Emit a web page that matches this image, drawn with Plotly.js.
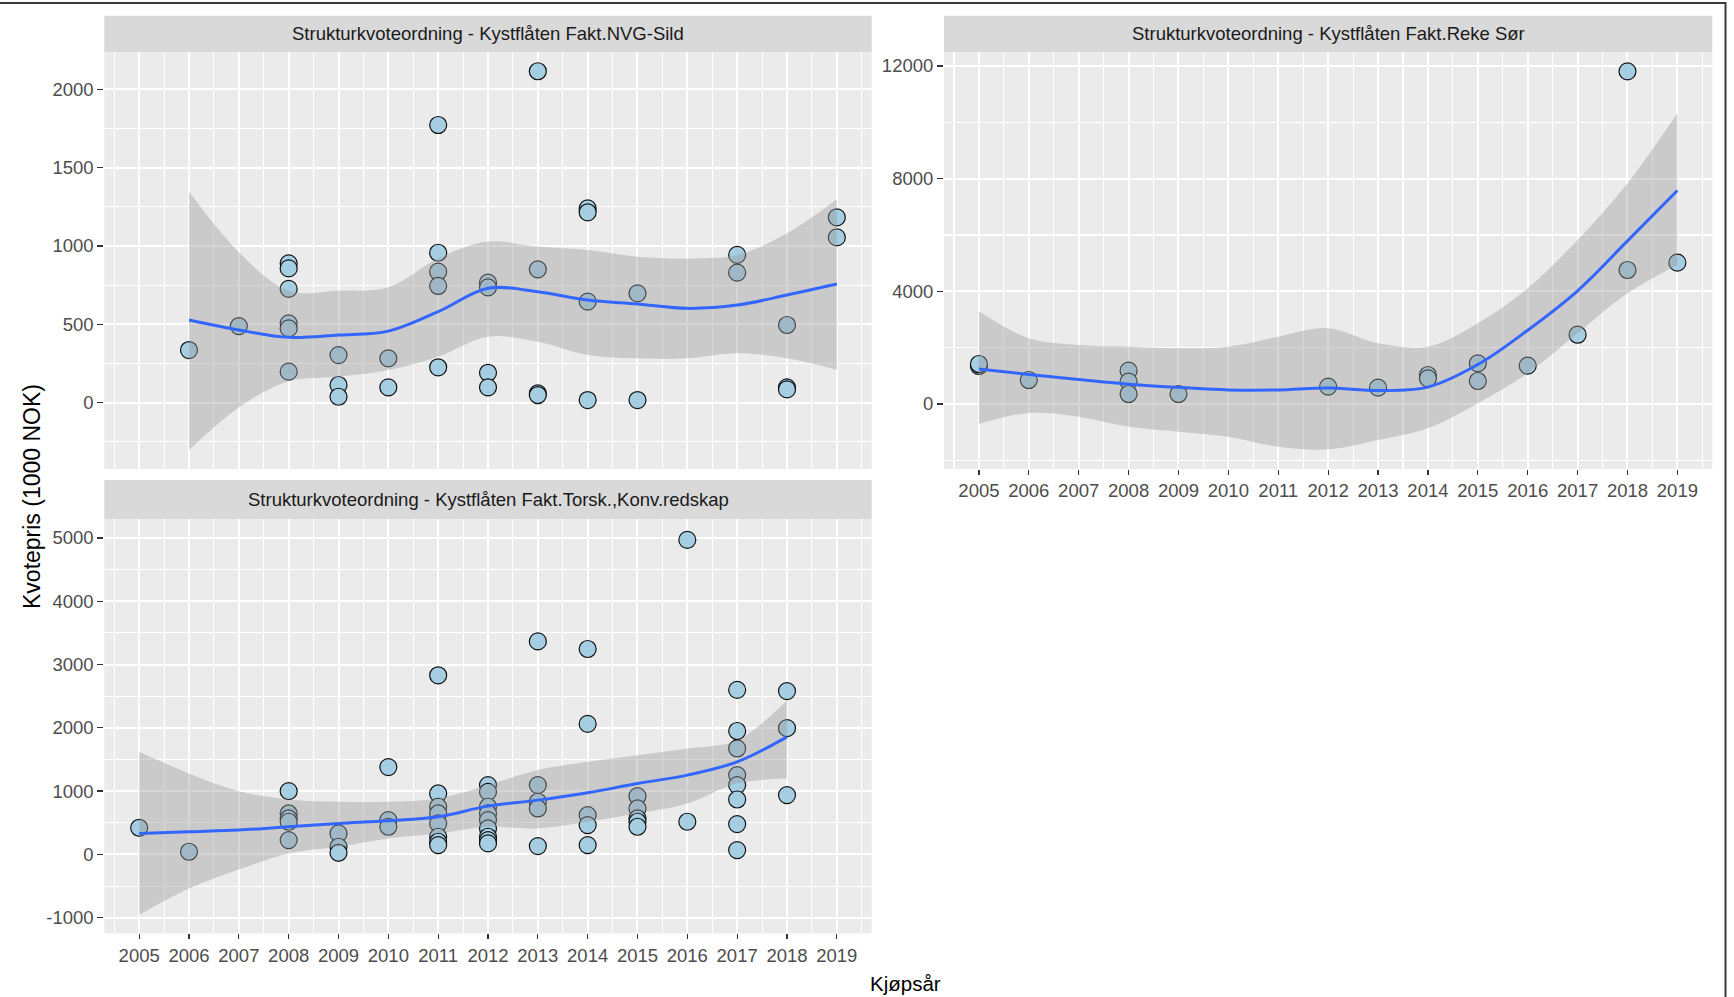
<!DOCTYPE html>
<html>
<head>
<meta charset="utf-8">
<script src="https://cdn.plot.ly/plotly-3.0.1.min.js"></script>
<style>
  html, body { margin: 0; padding: 0; background: #ffffff; }
  #chart { width: 1734px; height: 997px; }
</style>
</head>
<body>
<div id="chart"></div>
<script>
// ---------------- DATA ----------------
const yearTicks = [2005, 2006, 2007, 2008, 2009, 2010, 2011, 2012, 2013, 2014, 2015, 2016, 2017, 2018, 2019];
const yearTickText = ["2005", "2006", "2007", "2008", "2009", "2010", "2011", "2012", "2013", "2014", "2015", "2016", "2017", "2018", "2019"];

// Panel 1: NVG-Sild
const sildTitle = "Strukturkvoteordning - Kystflåten Fakt.NVG-Sild";
const sildYear = [2006, 2007, 2008, 2008, 2008, 2008, 2008, 2008, 2009, 2009, 2009, 2010, 2010,
                  2011, 2011, 2011, 2011, 2011, 2012, 2012, 2012, 2012, 2013, 2013, 2013, 2013,
                  2014, 2014, 2014, 2014, 2015, 2015, 2017, 2017, 2018, 2018, 2018, 2019, 2019];
const sildPris = [336, 489, 889, 857, 726, 506, 474, 198, 304, 113, 38, 283, 98,
                  1772, 957, 836, 745, 226, 766, 736, 191, 98, 2115, 851, 60, 49,
                  1240, 1215, 645, 17, 698, 17, 943, 830, 496, 98, 85, 1183, 1055];
const sildFitYear = [2006, 2007, 2008, 2009, 2010, 2011, 2012, 2013, 2014, 2015, 2016, 2017, 2018, 2019];
const sildFit   = [528, 464, 417, 432, 457, 581, 730, 708, 655, 630, 602, 623, 687, 757];
const sildUpper = [1347, 960, 715, 715, 736, 921, 1028, 996, 974, 932, 921, 943, 1081, 1298];
const sildLower = [-302, -30, 137, 166, 209, 294, 421, 389, 304, 283, 283, 315, 283, 209];
const sildTickVals = [0, 500, 1000, 1500, 2000];
const sildTickText = ["0", "500", "1000", "1500", "2000"];

// Panel 2: Reke Sør
const rekeTitle = "Strukturkvoteordning - Kystflåten Fakt.Reke Sør";
const rekeYear = [2005, 2005, 2006, 2008, 2008, 2008, 2009, 2012, 2013, 2014, 2014,
                  2015, 2015, 2016, 2017, 2018, 2018, 2019];
const rekePris = [1350, 1420, 852, 1183, 793, 355, 355, 615, 580, 1030, 911,
                  1444, 817, 1361, 2460, 11810, 4757, 5018];
const rekeFitYear = [2005, 2006, 2007, 2008, 2009, 2010, 2011, 2012, 2013, 2014, 2015, 2016, 2017, 2018, 2019];
const rekeFit   = [1243, 1050, 870, 700, 590, 500, 500, 570, 480, 600, 1400, 2620, 4020, 5790, 7580];
const rekeUpper = [3290, 2331, 2095, 2036, 1976, 2036, 2391, 2690, 2154, 2036, 2864, 4107, 5822, 7834, 10330];
const rekeLower = [-710, -320, -450, -805, -982, -1160, -1515, -1609, -1278, -864, 24, 1089, 2509, 3929, 4935];
const rekeTickVals = [0, 4000, 8000, 12000];
const rekeTickText = ["0", "4000", "8000", "12000"];

// Panel 3: Torsk, Konv.redskap
const torskTitle = "Strukturkvoteordning - Kystflåten Fakt.Torsk.,Konv.redskap";
const torskYear = [2005, 2006,
                   2008, 2008, 2008, 2008, 2008,
                   2009, 2009, 2009,
                   2010, 2010, 2010,
                   2011, 2011, 2011, 2011, 2011, 2011, 2011, 2011,
                   2012, 2012, 2012, 2012, 2012, 2012, 2012, 2012, 2012,
                   2013, 2013, 2013, 2013, 2013,
                   2014, 2014, 2014, 2014, 2014,
                   2015, 2015, 2015, 2015, 2015,
                   2016, 2016,
                   2017, 2017, 2017, 2017, 2017, 2017, 2017, 2017,
                   2018, 2018, 2018];
const torskPris = [421, 42,
                   1000, 647, 568, 516, 226,
                   332, 121, 26,
                   1380, 542, 437,
                   2830, 963, 753, 647, 489, 279, 200, 147,
                   1095, 989, 753, 647, 542, 411, 279, 226, 174,
                   3365, 1095, 832, 726, 132,
                   3245, 2062, 621, 463, 147,
                   921, 726, 568, 516, 437,
                   4970, 516,
                   2600, 1950, 1674, 1253, 1095, 868, 479, 68,
                   2580, 1995, 937];
const torskFitYear = [2005, 2006, 2007, 2008, 2009, 2010, 2011, 2012, 2013, 2014, 2015, 2016, 2017, 2018];
const torskFit   = [332, 358, 384, 437, 489, 532, 595, 763, 858, 974, 1121, 1253, 1463, 1858];
const torskUpper = [1621, 1280, 1000, 868, 832, 832, 884, 1095, 1332, 1463, 1568, 1674, 1805, 2437];
const torskLower = [-958, -540, -240, 16, 121, 253, 332, 437, 411, 516, 647, 805, 1121, 1200];
const torskTickVals = [-1000, 0, 1000, 2000, 3000, 4000, 5000];
const torskTickText = ["-1000", "0", "1000", "2000", "3000", "4000", "5000"];

const xTitle = "Kjøpsår";
const yTitle = "Kvotepris (1000 NOK)";

// ---------------- LAYOUT HELPERS ----------------
const W = 1734, H = 997;
const fx = p => p / W;
const fy = p => 1 - p / H;

const FONT = "Liberation Sans, Arial, sans-serif";
const TICKFONT = {family: FONT, size: 18.5, color: "#4D4D4D"};
const POINT_FILL = "#A6CEE3";
const RIBBON = "rgba(153,153,153,0.4)";
const LINE = "#3366FF";

function panelTraces(xa, ya, px, py, fitX, fit, up, lo) {
  return [
    {type: "scatter", mode: "markers", x: px, y: py, xaxis: xa, yaxis: ya,
     marker: {size: 17, color: POINT_FILL, line: {color: "#111111", width: 1.2}},
     hoverinfo: "x+y", showlegend: false},
    {type: "scatter", mode: "lines", x: fitX, y: lo, xaxis: xa, yaxis: ya,
     line: {width: 0, shape: "spline", smoothing: 1}, hoverinfo: "skip", showlegend: false},
    {type: "scatter", mode: "lines", x: fitX, y: up, xaxis: xa, yaxis: ya,
     fill: "tonexty", fillcolor: RIBBON,
     line: {width: 0, shape: "spline", smoothing: 1}, hoverinfo: "skip", showlegend: false},
    {type: "scatter", mode: "lines", x: fitX, y: fit, xaxis: xa, yaxis: ya,
     line: {color: LINE, width: 3, shape: "spline", smoothing: 1}, hoverinfo: "skip", showlegend: false}
  ];
}

const data = []
  .concat(panelTraces("x", "y", sildYear, sildPris, sildFitYear, sildFit, sildUpper, sildLower))
  .concat(panelTraces("x2", "y2", rekeYear, rekePris, rekeFitYear, rekeFit, rekeUpper, rekeLower))
  .concat(panelTraces("x3", "y3", torskYear, torskPris, torskFitYear, torskFit, torskUpper, torskLower));

function xAxis(domain, anchor, showLabels) {
  return {
    domain: domain, anchor: anchor, range: [2004.3, 2019.7],
    tickmode: "array", tickvals: yearTicks, ticktext: yearTickText,
    showticklabels: showLabels, ticks: showLabels ? "outside" : "",
    ticklen: 5, tickwidth: 1.3, tickcolor: "#333333", tickfont: TICKFONT,
    showgrid: true, gridcolor: "#FFFFFF", gridwidth: 2,
    minor: {tick0: 2004.5, dtick: 1, showgrid: true, gridcolor: "#FFFFFF", gridwidth: 1.1, ticks: ""},
    zeroline: false, showline: false, fixedrange: true
  };
}
function yAxis(domain, anchor, range, tv, tt, minor0, minorD) {
  return {
    domain: domain, anchor: anchor, range: range,
    tickmode: "array", tickvals: tv, ticktext: tt,
    ticks: "outside", ticklen: 6, tickwidth: 1.3, tickcolor: "#333333", tickfont: TICKFONT,
    showgrid: true, gridcolor: "#FFFFFF", gridwidth: 2,
    minor: {tick0: minor0, dtick: minorD, showgrid: true, gridcolor: "#FFFFFF", gridwidth: 1.1, ticks: ""},
    zeroline: false, showline: false, fixedrange: true
  };
}

const P1x = [fx(104.3), fx(871.7)], P2x = [fx(944), fx(1712.3)];
const TopY = [fy(469), fy(52.3)], BotY = [fy(933.3), fy(519)];

const strips = [
  {x0: P1x[0], x1: P1x[1], y0: fy(52.3), y1: fy(15.7), text: sildTitle},
  {x0: P2x[0], x1: P2x[1], y0: fy(52.3), y1: fy(15.7), text: rekeTitle},
  {x0: P1x[0], x1: P1x[1], y0: fy(519), y1: fy(480), text: torskTitle}
];

const shapes = strips.map(s => ({type: "rect", xref: "paper", yref: "paper",
  x0: s.x0, x1: s.x1, y0: s.y0, y1: s.y1, fillcolor: "#D9D9D9", line: {width: 0}, layer: "below"}));
shapes.push({type: "line", xref: "paper", yref: "paper", x0: fx(0), x1: fx(1726), y0: fy(3), y1: fy(3),
  line: {color: "#3A3A3A", width: 2}});
shapes.push({type: "line", xref: "paper", yref: "paper", x0: fx(1725.5), x1: fx(1725.5), y0: fy(2), y1: fy(997),
  line: {color: "#3A3A3A", width: 2}});

const annotations = strips.map(s => ({xref: "paper", yref: "paper", x: (s.x0 + s.x1) / 2, y: (s.y0 + s.y1) / 2,
  text: s.text, showarrow: false, xanchor: "center", yanchor: "middle",
  font: {family: FONT, size: 18.5, color: "#1A1A1A"}}));
annotations.push({xref: "paper", yref: "paper", x: fx(905), y: fy(983), text: xTitle, showarrow: false,
  xanchor: "center", yanchor: "middle", font: {family: FONT, size: 20.5, color: "#000000"}});
annotations.push({xref: "paper", yref: "paper", x: fx(32), y: fy(497), text: yTitle, showarrow: false,
  textangle: -90, xanchor: "center", yanchor: "middle", font: {family: FONT, size: 23, color: "#000000"}});

const layout = {
  width: W, height: H,
  margin: {l: 0, r: 0, t: 0, b: 0, pad: 0},
  paper_bgcolor: "#FFFFFF", plot_bgcolor: "#EBEBEB",
  showlegend: false,
  font: {family: FONT},
  xaxis: xAxis(P1x, "y", false),
  yaxis: yAxis(TopY, "x", [-423, 2236], sildTickVals, sildTickText, 250, 500),
  xaxis2: xAxis(P2x, "y2", true),
  yaxis2: yAxis(TopY, "x2", [-2308, 12486], rekeTickVals, rekeTickText, 2000, 4000),
  xaxis3: xAxis(P1x, "y3", true),
  yaxis3: yAxis(BotY, "x3", [-1246, 5299], torskTickVals, torskTickText, 500, 1000),
  shapes: shapes,
  annotations: annotations
};

Plotly.newPlot("chart", data, layout, {displayModeBar: false, staticPlot: true});
</script>
</body>
</html>
